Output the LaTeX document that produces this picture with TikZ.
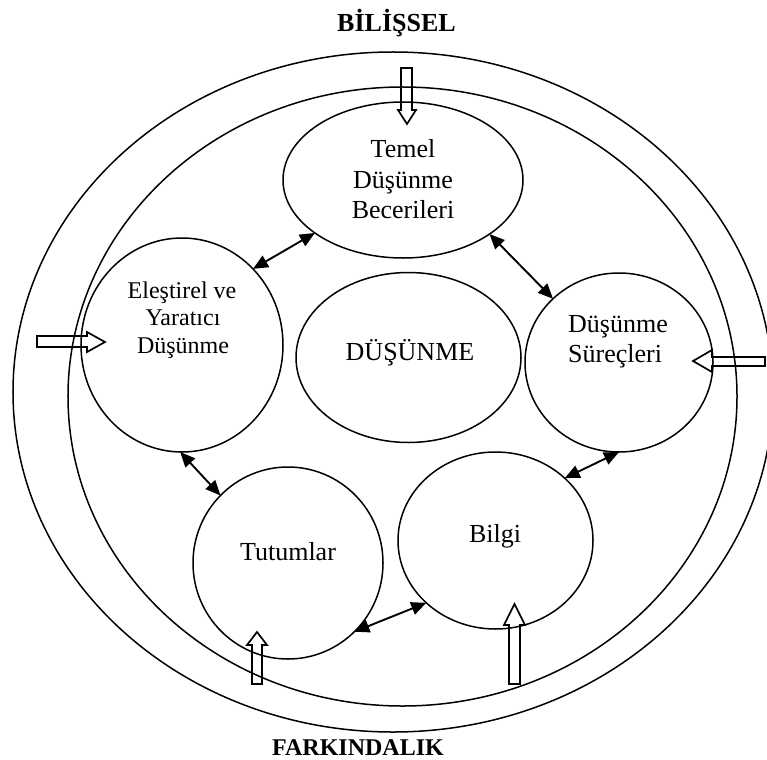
\documentclass[tikz,border=0pt]{standalone}
\usepackage{fontspec}
\setmainfont{Liberation Serif}
\usetikzlibrary{shapes.geometric,arrows.meta}
\begin{document}
\begin{tikzpicture}[x=1bp,y=-1bp,
  ring/.style={draw, ellipse, line width=1.5bp, inner sep=0pt, outer sep=0pt},
  lbl/.style={anchor=base, inner sep=0pt, font=\fontsize{26bp}{30bp}\selectfont},
  lbls/.style={anchor=base, inner sep=0pt, font=\fontsize{24bp}{27bp}\selectfont},
  ttl/.style={anchor=base, inner sep=0pt, font=\bfseries\fontsize{26bp}{30bp}\selectfont},
  ttls/.style={anchor=base, inner sep=0pt, font=\bfseries\fontsize{24bp}{28bp}\selectfont},
  link/.style={line width=1.9bp, {Triangle[length=15bp,width=13bp]}-{Triangle[length=15bp,width=13bp]}},
  hollow/.style={draw, line width=1.7bp, line join=miter}]
\clip (0,0) rectangle (767,760);

% rings
\node[ring, minimum width=760bp, minimum height=680bp] (outer) at (393,392) {};
\node[ring, minimum width=669bp, minimum height=619bp] (inner) at (402.5,396.5) {};
\node[ring, minimum width=240bp, minimum height=156bp] (temel) at (403,180) {};
\node[ring, minimum width=202bp, minimum height=214bp] (elestirel) at (182,345) {};
\node[ring, minimum width=225bp, minimum height=170bp] (dusunme) at (408.5,357.5) {};
\node[ring, minimum width=188bp, minimum height=179bp] (surec) at (619,362.5) {};
\node[ring, minimum width=190bp, minimum height=192bp] (tutum) at (288,563) {};
\node[ring, minimum width=195bp, minimum height=177bp] (bilgi) at (495.5,540.5) {};

% titles
\node[ttl] (bilissel) at (396.5,32) {BİLİŞSEL};
\node[ttls] (farkindalik) at (358,755.5) {FARKINDALIK};

% texts
\node[lbl] (temelA) at (403,157) {Temel};
\node[lbl] (temelB) at (403,188) {Düşünme};
\node[lbl] (temelC) at (403,218) {Becerileri};
\node[lbls] (eleA) at (182,298) {Eleştirel ve};
\node[lbls] (eleB) at (183,325) {Yaratıcı};
\node[lbls] (eleC) at (183,353) {Düşünme};
\node[lbl] (dusA) at (410,360) {DÜŞÜNME};
\node[lbl, anchor=base west] (surA) at (568,332) {Düşünme};
\node[lbl, anchor=base west] (surB) at (568,362) {Süreçleri};
\node[lbl] (tutA) at (288,560) {Tutumlar};
\node[lbl] (bilA) at (495,542) {Bilgi};

% double arrows
\draw[link] (temel.211.6) -- (elestirel.47.3);
\draw[link] (temel.328.6) -- (surec.136.5);
\draw[link] (elestirel.269.5) -- (tutum.135);
\draw[link] (surec.270) -- (bilgi.42);
\draw[link] (tutum.314.2) -- (bilgi.222.4);

% hollow block arrows
\draw[hollow] (401,68) -- (412,68) -- (412,110) -- (416,110) -- (407,124) -- (398,110) -- (401,110) -- cycle;
\draw[hollow] (37,336) -- (87,336) -- (87,332) -- (105,342) -- (87,352) -- (87,347) -- (37,347) -- cycle;
\draw[hollow] (765,357) -- (712,357) -- (712,350) -- (693,361) -- (712,372) -- (712,366) -- (765,366) -- cycle;
\draw[hollow] (252,684) -- (252,645) -- (247,645) -- (257,632) -- (267,645) -- (262,645) -- (262,684) -- cycle;
\draw[hollow] (509,684) -- (509,625) -- (504,625) -- (514.5,604) -- (525,625) -- (520,625) -- (520,684) -- cycle;
\end{tikzpicture}
\end{document}
